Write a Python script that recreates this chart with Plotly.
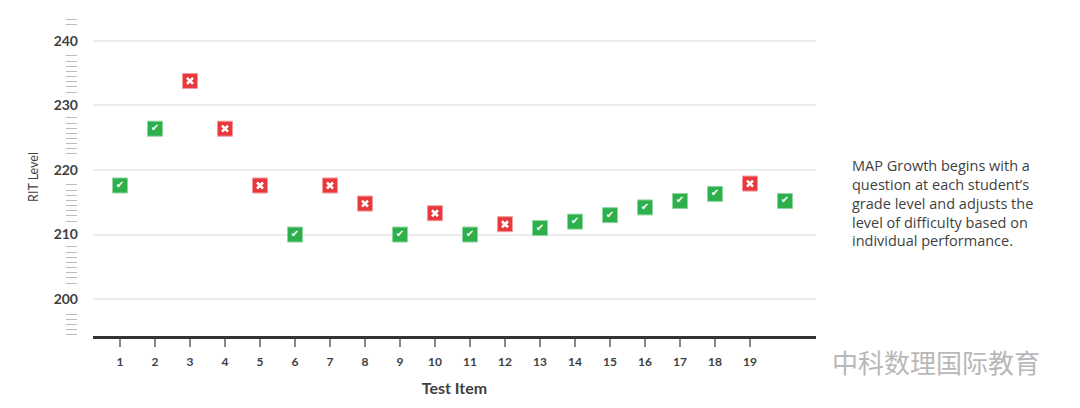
import numpy as np
import plotly.graph_objects as go

items = list(range(1, 21))
rit = [217.6, 226.4, 233.8, 226.4, 217.6, 210.0, 217.6, 214.8, 210.0, 213.3,
       210.0, 211.6, 211.0, 212.0, 213.0, 214.2, 215.2, 216.3, 217.9, 215.2]
correct = [1, 1, 0, 0, 0, 1, 0, 0, 1, 0, 1, 0, 1, 1, 1, 1, 1, 1, 0, 1]
x_tick_vals = list(range(1, 20))
y_tick_vals = [200, 210, 220, 230, 240]
note = ("MAP Growth begins with a<br>question at each student’s<br>"
        "grade level and adjusts the<br>level of difficulty based on<br>"
        "individual performance.")
watermark = "中科数理国际教育"

GREEN = "#2DAF4B"
RED = "#E8383C"
DARK = "#3f3f3f"
FONT = "Lato, Open Sans, sans-serif"

OFF = 8  # page body margin offset
W, H = 1080, 408
ML, MR, MT, MB = 60 - OFF, 264 + OFF, 18 - OFF, 72 + OFF
pw = W - ML - MR
ph = H - MT - MB
x_dom0 = (93 - OFF - ML) / pw
yr = [194.28, 243.55]


def px_x(p):
    return (p - OFF - ML) / pw


def px_y(p):
    return 1 - (p - OFF - MT) / ph


# decorative minor tick positions (axis ticks, skipping label spots)
minor = np.arange(yr[0] + 0.2, yr[1], 0.8)
minor = [float(v) for v in minor if min(abs(v - t) for t in y_tick_vals) > 1.7]

gx = [x for x, c in zip(items, correct) if c]
gy = [y for y, c in zip(rit, correct) if c]
rx = [x for x, c in zip(items, correct) if not c]
ry = [y for y, c in zip(rit, correct) if not c]

fig = go.Figure()
fig.add_trace(go.Scatter(
    x=gx, y=gy, mode="markers+text", text=["✔"] * len(gx),
    textposition="middle center",
    textfont=dict(color="white", size=10, family="DejaVu Sans"),
    marker=dict(symbol="square", size=15, color=GREEN,
                line=dict(color="#8fd6a0", width=1)),
    hoverinfo="x+y", showlegend=False))
fig.add_trace(go.Scatter(
    x=rx, y=ry, mode="markers",
    marker=dict(symbol="square", size=15, color=RED,
                line=dict(color="#f29a9c", width=1)),
    hoverinfo="x+y", showlegend=False))
fig.add_trace(go.Scatter(
    x=rx, y=ry, mode="markers",
    marker=dict(symbol="x-thin", size=6, color="white",
                line=dict(color="white", width=2.6)),
    hoverinfo="skip", showlegend=False))
fig.add_trace(go.Scatter(x=[None], y=[None], yaxis="y2", showlegend=False,
                         hoverinfo="skip"))

fig.update_layout(
    width=W, height=H,
    margin=dict(l=ML, r=MR, t=MT, b=MB, autoexpand=False),
    paper_bgcolor="white", plot_bgcolor="white",
    font=dict(family=FONT, color=DARK),
    xaxis=dict(
        domain=[x_dom0, 1], range=[0.229, 20.886],
        tickmode="array", tickvals=x_tick_vals,
        ticktext=[str(v) for v in x_tick_vals],
        ticks="outside", ticklen=8, tickwidth=1.5, tickcolor="#888",
        tickfont=dict(size=12, family=FONT, weight="bold", color=DARK),
        ticklabelstandoff=5,
        showgrid=False, zeroline=False,
        showline=True, linecolor="#333", linewidth=3,
        title=dict(text="Test Item", standoff=15,
                   font=dict(size=16, family=FONT, weight="bold", color=DARK)),
    ),
    yaxis=dict(
        range=yr, tickmode="array", tickvals=y_tick_vals,
        ticktext=[str(v) for v in y_tick_vals],
        ticks="", ticklabelstandoff=14,
        tickfont=dict(size=14, family=FONT, weight="bold", color=DARK),
        showgrid=True, gridcolor="#ececec", gridwidth=1.5,
        zeroline=False, showline=False,
        title=dict(text="RIT Level", standoff=12,
                   font=dict(size=12.5, family=FONT, color=DARK)),
    ),
    yaxis2=dict(
        overlaying="y", anchor="free", side="left",
        position=px_x(77), range=yr,
        tickmode="array", tickvals=minor, showticklabels=False,
        ticks="outside", ticklen=11, tickwidth=1.2, tickcolor="#bdbdbd",
        showgrid=False, zeroline=False, showline=False,
    ),
    annotations=[
        dict(text=note, xref="paper", yref="paper",
             x=px_x(850), y=px_y(202.5),
             xanchor="left", yanchor="middle", align="left", showarrow=False,
             font=dict(size=14.5, family="Open Sans", color=DARK)),
        dict(text=watermark, xref="paper", yref="paper",
             x=px_x(830), y=px_y(361),
             xanchor="left", yanchor="middle", showarrow=False,
             font=dict(size=26, family="Noto Sans CJK SC", color="#b8b8b8")),
    ],
)

fig.write_html("out.html")
